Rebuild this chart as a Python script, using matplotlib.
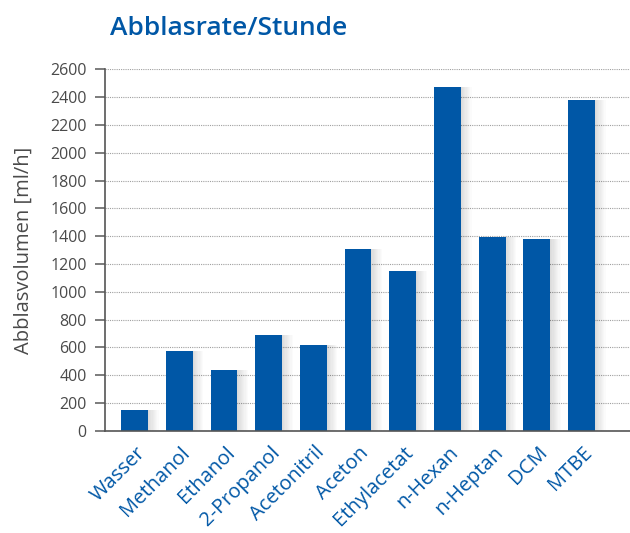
#!/usr/bin/env python3
# abblasrate.py

import numpy as np
import matplotlib.pyplot as plt
from matplotlib.transforms import ScaledTranslation

# Data
solvents = ["Wasser", "Methanol", "Ethanol", "2-Propanol", "Acetonitril", "Aceton",
            "Ethylacetat", "n-Hexan", "n-Heptan", "DCM", "MTBE"]
volume_ml_h = [150, 575, 440, 690, 620, 1310, 1150, 2470, 1395, 1380, 2380]
y_ticks = list(range(0, 2601, 200))

BLUE = "#0057A6"
GREY = "#4a4a4a"


def plot(ax):
    x = np.arange(len(solvents))

    # soft drop shadow to the right of the bars
    for off in np.linspace(0.02, 0.24, 9):
        ax.bar(x + off, volume_ml_h, width=0.6, color="black", alpha=0.016,
               linewidth=0, zorder=1)

    ax.bar(x, volume_ml_h, width=0.6, color=BLUE, zorder=2)

    ax.set_xlim(-0.667, 11.085)
    ax.set_ylim(0, 2600)
    ax.set_yticks(y_ticks)
    ax.yaxis.grid(True, color="#a0a0a0", linestyle=(0, (1, 1)), linewidth=0.8)
    ax.set_axisbelow(True)

    ax.set_xticks(x)
    ax.set_xticklabels(solvents, rotation=45, ha="right", va="top",
                       rotation_mode="anchor", color=BLUE, fontsize=14.5)
    ax.tick_params(axis="x", length=0, pad=0)
    # nudge labels so their top-right corner sits just below the bar
    shift = ScaledTranslation(0.01, -0.12, ax.figure.dpi_scale_trans)
    for lab in ax.get_xticklabels():
        lab.set_transform(lab.get_transform() + shift)

    ax.tick_params(axis="y", direction="out", length=7, width=1.2, color="#666666",
                   labelcolor=GREY, labelsize=11.5, pad=6)

    for side in ("top", "right"):
        ax.spines[side].set_visible(False)
    ax.spines["left"].set_color("#555555")
    ax.spines["bottom"].set_color("#555555")
    ax.spines["left"].set_linewidth(1.2)
    ax.spines["bottom"].set_linewidth(1.2)

    ax.set_ylabel("Abblasvolumen [ml/h]", color=GREY, fontsize=14.5, labelpad=12)


def main():
    plt.rcParams["font.family"] = ["Open Sans", "DejaVu Sans"]
    fig = plt.figure(figsize=(6.3, 5.33), dpi=100)
    ax = fig.add_axes([0.1662, 0.1919, 0.8338, 0.678])
    plot(ax)

    fig.text(110 / 630, 1 - 35 / 533, "Abblasrate/Stunde", color=BLUE,
             fontsize=19, fontweight="semibold", ha="left", va="baseline")

    fig.savefig("out.png", dpi=100)


if __name__ == "__main__":
    main()
